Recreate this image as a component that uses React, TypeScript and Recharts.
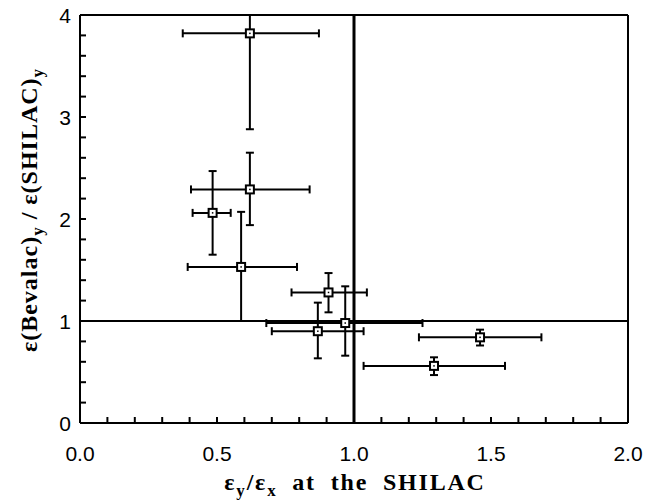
import {
	ErrorBar,
	ReferenceLine,
	Scatter,
	ScatterChart,
	XAxis,
	YAxis,
} from "recharts";

// emittance ratio at the SHILAC (x) vs Bevalac/SHILAC ratio (y)
const xValues = [0.62, 0.62, 0.484, 0.588, 0.907, 0.868, 0.968, 1.46, 1.292];
const yValues = [3.82, 2.29, 2.06, 1.53, 1.28, 0.9, 0.98, 0.84, 0.56];
const xLow = [0.375, 0.405, 0.411, 0.393, 0.772, 0.7, 0.68, 1.237, 1.035];
const xHigh = [0.872, 0.838, 0.55, 0.792, 1.047, 1.035, 1.25, 1.684, 1.551];
const yLow = [2.88, 1.94, 1.65, 1.0, 1.085, 0.634, 0.66, 0.76, 0.47];
const yHigh = [4.0, 2.65, 2.47, 2.07, 1.47, 1.18, 1.34, 0.915, 0.644];

const xTicks = [
	0, 0.1, 0.2, 0.3, 0.4, 0.5, 0.6, 0.7, 0.8, 0.9, 1.0, 1.1, 1.2, 1.3, 1.4, 1.5,
	1.6, 1.7, 1.8, 1.9, 2.0,
];
const yTicks = [
	0, 0.2, 0.4, 0.6, 0.8, 1, 1.2, 1.4, 1.6, 1.8, 2, 2.2, 2.4, 2.6, 2.8, 3, 3.2,
	3.4, 3.6, 3.8, 4,
];

const data = xValues.map((x, i) => ({
	x,
	y: yValues[i],
	ex: [x - xLow[i], xHigh[i] - x],
	ey: [yValues[i] - yLow[i], yHigh[i] - yValues[i]],
}));

const TICK = 6; // inward tick length (negative tickSize turns ticks inward)

const tickFont = "'Liberation Sans', Arial, sans-serif";
const titleFont = "'Liberation Serif', 'Times New Roman', serif";

const isMajorX = (v: number) => Math.abs(v * 2 - Math.round(v * 2)) < 1e-6;
const isMajorY = (v: number) => Math.abs(v - Math.round(v)) < 1e-6;

const frame = { stroke: "#000", strokeWidth: 2 };

function BottomLabel({ x, y, payload }: any) {
	if (!isMajorX(payload.value)) return null;
	return (
		<text x={x} y={y + TICK + 38} textAnchor="middle" fontSize={21} fontFamily={tickFont} fill="#000">
			{payload.value.toFixed(1)}
		</text>
	);
}

function LeftLabel({ x, y, payload }: any) {
	if (!isMajorY(payload.value)) return null;
	return (
		<text x={x - TICK - 9} y={y + 8} textAnchor="end" fontSize={21} fontFamily={tickFont} fill="#000">
			{payload.value}
		</text>
	);
}

function Marker({ cx, cy }: any) {
	return (
		<g>
			<rect x={cx - 4} y={cy - 4} width={8} height={8} fill="#fff" stroke="#000" strokeWidth={2} />
			<rect x={cx - 0.75} y={cy - 0.75} width={1.5} height={1.5} fill="#000" />
		</g>
	);
}

function Nothing() {
	return <g />;
}

function XTitle() {
	return (
		<text
			x={355}
			y={490}
			textAnchor="middle"
			fontSize={24}
			fontWeight="bold"
			fontFamily={titleFont}
			letterSpacing={1.8}
			wordSpacing={7}
			fill="#000"
		>
			ε<tspan dy={6} fontSize={17}>y</tspan>
			<tspan dy={-6}>/ε</tspan>
			<tspan dy={6} fontSize={17}>x</tspan>
			<tspan dy={-6}> at the SHILAC</tspan>
		</text>
	);
}

function YTitle() {
	return (
		<text
			transform="translate(37, 210) rotate(-90)"
			textAnchor="middle"
			fontSize={24}
			fontWeight="bold"
			fontFamily={titleFont}
			letterSpacing={1}
			fill="#000"
		>
			ε(Bevalac)<tspan dy={6} fontSize={17}>y</tspan>
			<tspan dy={-6}> / ε(SHILAC)</tspan>
			<tspan dy={6} fontSize={17}>y</tspan>
		</text>
	);
}

export default function App() {
	return (
		<div style={{ position: "absolute", left: 0, top: 0, background: "#fff" }}>
			<ScatterChart width={653} height={504} margin={{ top: 5, right: 15, bottom: 1, left: 0 }}>
				<XAxis
					xAxisId="b"
					type="number"
					dataKey="x"
					domain={[0, 2]}
					ticks={xTicks}
					interval={0}
					allowDataOverflow
					height={80}
					tickSize={-TICK}
					tickMargin={0}
					tickLine={frame}
					tick={<BottomLabel />}
					axisLine={frame}
					label={<XTitle />}
				/>
				<XAxis
					xAxisId="t"
					orientation="top"
					type="number"
					dataKey="x"
					domain={[0, 2]}
					ticks={xTicks}
					interval={0}
					allowDataOverflow
					height={10}
					tickSize={-TICK}
					tickLine={frame}
					tick={false}
					axisLine={frame}
				/>
				<YAxis
					yAxisId="l"
					type="number"
					dataKey="y"
					domain={[0, 4]}
					ticks={yTicks}
					interval={0}
					allowDataOverflow
					width={80}
					tickSize={-TICK}
					tickMargin={0}
					tickLine={frame}
					tick={<LeftLabel />}
					axisLine={frame}
					label={<YTitle />}
				/>
				<YAxis
					yAxisId="r"
					orientation="right"
					type="number"
					dataKey="y"
					domain={[0, 4]}
					ticks={yTicks}
					interval={0}
					allowDataOverflow
					width={10}
					tickSize={-TICK}
					tickLine={frame}
					tick={false}
					axisLine={frame}
				/>
				<ReferenceLine xAxisId="b" yAxisId="l" x={1} stroke="#000" strokeWidth={3} />
				<ReferenceLine xAxisId="b" yAxisId="l" y={1} stroke="#000" strokeWidth={2} />
				{/* invisible copy so the mirrored top/right axes get a domain */}
				<Scatter xAxisId="t" yAxisId="r" data={data} shape={<Nothing />} isAnimationActive={false} />
				<Scatter
					xAxisId="b"
					yAxisId="l"
					data={data}
					shape={<Marker />}
					isAnimationActive={false}
				>
					<ErrorBar dataKey="ex" direction="x" width={4} stroke="#000" strokeWidth={2} isAnimationActive={false} />
					<ErrorBar dataKey="ey" direction="y" width={4} stroke="#000" strokeWidth={2} isAnimationActive={false} />
				</Scatter>
			</ScatterChart>
		</div>
	);
}
